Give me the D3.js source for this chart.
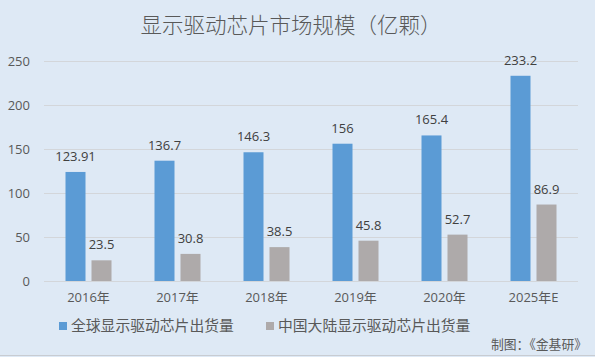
<!DOCTYPE html>
<html><head><meta charset="utf-8">
<script src="https://cdn.jsdelivr.net/npm/d3@7"></script>
<style>
html,body{margin:0;padding:0;background:#dee9f5;}
svg{display:block;font-family:"Open Sans","Noto Sans CJK SC",sans-serif;}
</style></head>
<body>
<svg id="c" width="595" height="357"></svg>
<script>
const categories = ["2016年","2017年","2018年","2019年","2020年","2025年E"];
const globalValues = [123.91,136.7,146.3,156,165.4,233.2];
const chinaValues = [23.5,30.8,38.5,45.8,52.7,86.9];
const globalLabels = ["123.91","136.7","146.3","156","165.4","233.2"];
const chinaLabels = ["23.5","30.8","38.5","45.8","52.7","86.9"];
const yTicks = [0,50,100,150,200,250];
const seriesNames = ["全球显示驱动芯片出货量","中国大陆显示驱动芯片出货量"];
const colors = ["#5b9bd5","#aeaaaa"];

const FONT = "'Open Sans','Noto Sans CJK SC',sans-serif";
const svg = d3.select("#c");
svg.append("rect").attr("width",595).attr("height",357).attr("fill","#dee9f5");
svg.append("line").attr("x1",0).attr("x2",595).attr("y1",355.5).attr("y2",355.5).attr("stroke","#c8ccd2");

const x = d3.scaleBand().domain(categories).range([44,578]);
const y = d3.scaleLinear().domain([0,250]).range([281,61]);

svg.append("text").attr("x",291).attr("y",33).attr("text-anchor","middle")
  .attr("font-size",21.5).attr("font-weight",300).attr("fill","#595959")
  .attr("font-family","'Noto Sans CJK SC',sans-serif").text("显示驱动芯片市场规模（亿颗）");

// grid
svg.append("g").selectAll("line").data(yTicks).join("line")
  .attr("x1",44).attr("x2",578).attr("y1",d=>Math.round(y(d))+0.5).attr("y2",d=>Math.round(y(d))+0.5)
  .attr("stroke","#d3d6da").attr("stroke-width",1);

const yAxis = svg.append("g").attr("transform","translate(44,0)").call(d3.axisLeft(y).tickValues(yTicks).tickSize(0).tickPadding(14));
yAxis.select(".domain").remove();
yAxis.selectAll("text").attr("font-size",13).attr("fill","#595959").attr("font-family",FONT);

const xAxis = svg.append("g").attr("transform","translate(0,281)").call(d3.axisBottom(x).tickSize(0).tickPadding(12));
xAxis.select(".domain").remove();
xAxis.selectAll("text").attr("font-size",13).attr("fill","#595959").attr("font-family",FONT);

const bw = 20, off = 13;
const groups = [
  {vals:globalValues, labs:globalLabels, dx:-off, color:colors[0]},
  {vals:chinaValues, labs:chinaLabels, dx:off, color:colors[1]}
];
groups.forEach(g=>{
  svg.append("g").selectAll("rect").data(categories).join("rect")
    .attr("x",(c)=>x(c)+x.bandwidth()/2+g.dx-bw/2)
    .attr("width",bw)
    .attr("y",(c,i)=>y(g.vals[i]))
    .attr("height",(c,i)=>y(0)-y(g.vals[i]))
    .attr("fill",g.color);
  svg.append("g").selectAll("text").data(categories).join("text")
    .attr("x",(c)=>x(c)+x.bandwidth()/2+g.dx)
    .attr("y",(c,i)=>y(g.vals[i])-11)
    .attr("text-anchor","middle").attr("font-size",13).attr("fill","#404040")
    .attr("font-family",FONT)
    .text((c,i)=>g.labs[i]);
});

// legend
const legX = [59,266];
seriesNames.forEach((n,i)=>{
  svg.append("rect").attr("x",legX[i]).attr("y",322).attr("width",8).attr("height",8).attr("fill",colors[i]);
  svg.append("text").attr("x",legX[i]+12).attr("y",331).attr("font-size",14.8).attr("fill","#595959")
    .attr("font-family","'Noto Sans CJK SC',sans-serif").text(n);
});

svg.append("text").attr("x",587).attr("y",349).attr("text-anchor","end").attr("font-size",12.8).attr("fill","#595959")
  .attr("font-family","'Noto Sans CJK SC',sans-serif").text("制图：《金基研》");
</script>
</body></html>
